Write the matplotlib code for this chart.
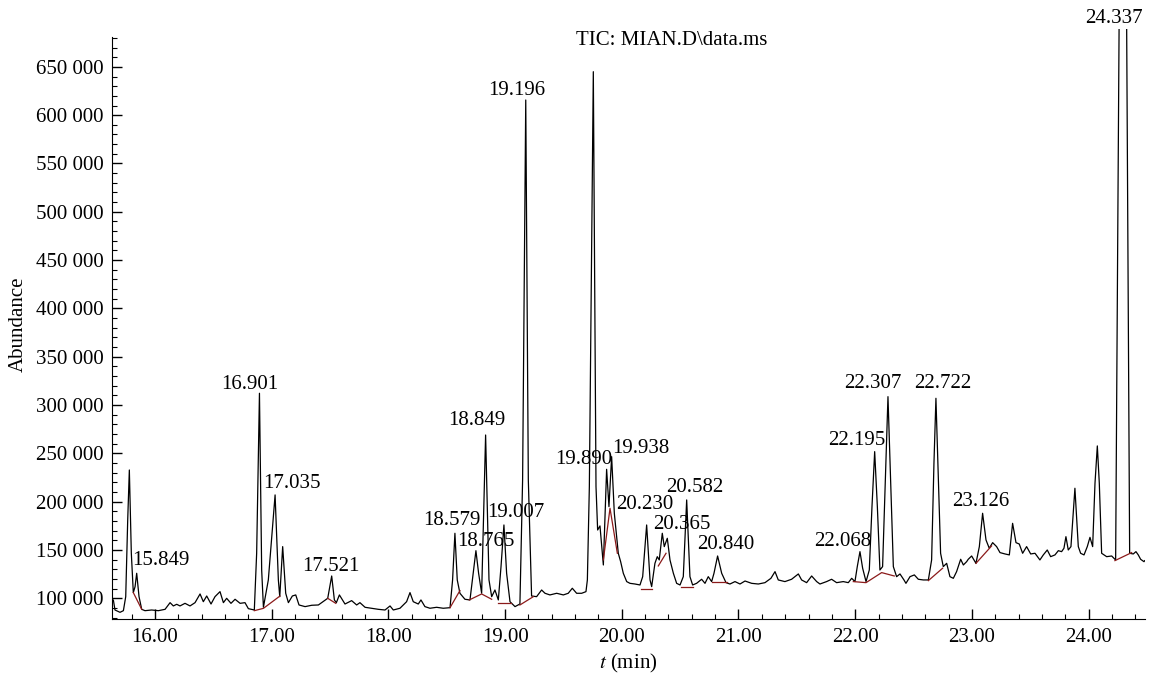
import numpy as np
import matplotlib.pyplot as plt
from matplotlib.ticker import MultipleLocator, FuncFormatter

# TIC trace (time in min, abundance)
t = [15.634, 15.643, 15.657, 15.700, 15.729, 15.749, 15.766, 15.780, 15.797, 15.814,
     15.829, 15.843, 15.863, 15.886, 15.914, 15.971, 16.029, 16.086, 16.129, 16.157,
     16.186, 16.214, 16.257, 16.300, 16.343, 16.386, 16.414, 16.443, 16.480, 16.514,
     16.557, 16.586, 16.614, 16.651, 16.686, 16.729, 16.771, 16.800, 16.851, 16.871,
     16.895, 16.914, 16.929, 16.971, 17.029, 17.057, 17.069, 17.094, 17.120, 17.143,
     17.177, 17.206, 17.234, 17.286, 17.343, 17.400, 17.480, 17.514, 17.537, 17.554,
     17.580, 17.628, 17.685, 17.728, 17.756, 17.800, 17.856, 17.914, 17.971, 18.014,
     18.042, 18.099, 18.156, 18.185, 18.213, 18.256, 18.279, 18.313, 18.356, 18.413,
     18.470, 18.528, 18.550, 18.570, 18.590, 18.613, 18.656, 18.699, 18.727, 18.750,
     18.773, 18.799, 18.833, 18.862, 18.885, 18.913, 18.942, 18.965, 18.990, 19.013,
     19.042, 19.085, 19.127, 19.150, 19.177, 19.199, 19.227, 19.270, 19.313, 19.342,
     19.384, 19.442, 19.499, 19.541, 19.576, 19.613, 19.656, 19.693, 19.705, 19.722,
     19.756, 19.779, 19.793, 19.813, 19.842, 19.870, 19.890, 19.913, 19.936, 19.970,
     19.990, 20.013, 20.042, 20.070, 20.113, 20.156, 20.179, 20.213, 20.242, 20.256,
     20.284, 20.304, 20.321, 20.347, 20.364, 20.390, 20.413, 20.442, 20.470, 20.499,
     20.527, 20.556, 20.584, 20.607, 20.641, 20.684, 20.713, 20.741, 20.770, 20.790,
     20.821, 20.856, 20.893, 20.927, 20.970, 21.013, 21.056, 21.113, 21.170, 21.227,
     21.278, 21.313, 21.341, 21.398, 21.455, 21.513, 21.541, 21.584, 21.627, 21.670,
     21.698, 21.755, 21.798, 21.841, 21.898, 21.941, 21.970, 21.998, 22.018, 22.041,
     22.064, 22.093, 22.121, 22.144, 22.167, 22.190, 22.212, 22.235, 22.258, 22.281,
     22.304, 22.327, 22.355, 22.384, 22.418, 22.435, 22.470, 22.507, 22.541, 22.584,
     22.627, 22.655, 22.675, 22.692, 22.709, 22.732, 22.755, 22.784, 22.812, 22.841,
     22.869, 22.904, 22.927, 22.955, 22.969, 22.998, 23.035, 23.064, 23.092, 23.121,
     23.149, 23.178, 23.212, 23.241, 23.284, 23.321, 23.349, 23.378, 23.406, 23.435,
     23.469, 23.504, 23.541, 23.583, 23.612, 23.646, 23.675, 23.712, 23.741, 23.769,
     23.789, 23.806, 23.826, 23.849, 23.883, 23.912, 23.932, 23.961, 23.989, 24.012,
     24.035, 24.055, 24.075, 24.092, 24.112, 24.155, 24.198, 24.232, 24.262, 24.326,
     24.352, 24.383, 24.406, 24.426, 24.446, 24.475, 24.480]
abund = [96550, 98300, 87900, 85500, 87200, 101700, 181000, 232800, 146600, 105900,
         112000, 125900, 101700, 88600, 87200, 87900, 87200, 88600, 95500, 92100,
         93800, 92100, 94800, 92100, 95500, 104500, 96500, 102400, 94100, 101700,
         106900, 95500, 100000, 94800, 99000, 94800, 95500, 89300, 87900, 146600,
         312200, 129300, 90700, 119000, 207000, 119000, 101700, 153500, 105200, 95500,
         102400, 103500, 93100, 91400, 92800, 93100, 100000, 123100, 98300, 95500,
         103500, 94100, 97600, 93100, 95500, 90700, 89700, 88600, 87900, 92100,
         87900, 89700, 96500, 105900, 96500, 94100, 98300, 91400, 89700, 90700,
         89700, 90300, 119000, 167300, 119000, 105200, 99000, 98300, 125900, 149300,
         125900, 105200, 269000, 119000, 101700, 108600, 98300, 132800, 175900, 125900,
         96500, 91400, 94100, 222500, 615700, 222500, 102400, 101700, 108600, 105200,
         103500, 105200, 103500, 105200, 110400, 105200, 105200, 106900, 119000, 215600,
         645000, 215600, 170700, 174900, 134500, 233500, 194900, 246600, 188000, 146600,
         138000, 125900, 117300, 115500, 114800, 113800, 122400, 175900, 119000, 112100,
         136200, 143100, 139700, 167300, 153500, 162100, 139700, 125900, 115500, 113800,
         122400, 201800, 122400, 113800, 115500, 119700, 115500, 122400, 117300, 125900,
         143800, 125900, 116200, 114800, 117300, 114800, 117900, 115500, 114800, 116200,
         120700, 127600, 119000, 117300, 119700, 125200, 119000, 116200, 123100, 117300,
         114800, 117300, 119700, 116200, 117300, 116200, 120700, 117300, 132800, 148300,
         131100, 117300, 129300, 194900, 251800, 194900, 129300, 132800, 222500, 308700,
         222500, 132800, 122400, 125200, 119000, 115500, 122400, 124200, 119700, 119000,
         119000, 139700, 239700, 307000, 239700, 146600, 132800, 136200, 122400, 120700,
         127600, 140400, 134500, 137900, 140400, 143800, 136200, 153500, 188000, 160400,
         151800, 157600, 153500, 147300, 145900, 144900, 177600, 157600, 156200, 146600,
         153500, 145900, 146600, 139700, 144900, 150000, 143100, 144900, 149300, 148300,
         151800, 163800, 150000, 153500, 213900, 153500, 146600, 144900, 153500, 163100,
         153500, 219000, 257700, 219000, 146600, 143100, 143800, 139700, 700000, 700000,
         146600, 145900, 148300, 144900, 140400, 137900, 138900]

# integration baselines (red)
base_t = [[15.814, 15.886], [16.851, 16.929, 17.071], [17.480, 17.549],
          [18.528, 18.613], [18.693, 18.799, 18.885], [18.942, 19.047],
          [19.127, 19.242], [19.842, 19.899, 19.962], [20.165, 20.256],
          [20.313, 20.379], [20.507, 20.613], [20.770, 20.898],
          [21.984, 22.093, 22.227, 22.335], [22.627, 22.749],
          [23.035, 23.169], [24.226, 24.369]]
base_a = [[105900, 88600], [87200, 89600, 102400], [100000, 94800],
          [90300, 108000], [98300, 104500, 99000], [95500, 95500],
          [93100, 101700], [139700, 193200, 146600], [109700, 109700],
          [133500, 146600], [112100, 112100], [116600, 116600],
          [117300, 116200, 126600, 123100], [118300, 131100],
          [136200, 154200], [139000, 147300]]

# peak labels and where they sit
lab = ['15.849', '16.901', '17.035', '17.521', '18.579', '18.765', '18.849',
       '19.007', '19.196', '19.890', '19.938', '20.230', '20.365', '20.582',
       '20.840', '22.068', '22.195', '22.307', '22.722', '23.126', '24.337']
lab_t = [16.049, 16.811, 17.171, 17.508, 18.545, 18.839, 18.759, 19.095, 19.099,
         19.673, 20.166, 20.199, 20.513, 20.625, 20.889, 21.889, 22.010, 22.148,
         22.752, 23.077, 24.219]
lab_a = [139600, 320800, 219000, 132700, 181000, 158600, 284500, 188600, 625400,
         243900, 255200, 197300, 176600, 214500, 156200, 158600, 263800, 322500,
         322500, 200000, 700300]

plt.rcParams['font.family'] = ['Liberation Serif', 'DejaVu Serif']
plt.rcParams['mathtext.fontset'] = 'stix'

fig = plt.figure(figsize=(11.53, 6.8), dpi=100)
ax = fig.add_axes([0.0974, 0.0893, 0.8953, 0.8678])

ax.plot(t, abund, color='black', lw=0.9)
for bt, ba in zip(base_t, base_a):
    ax.plot(bt, ba, color='#8b1a1a', lw=0.9)

for s, x, y in zip(lab, lab_t, lab_a):
    ax.text(x, y, s, ha='center', va='center', fontsize=15, clip_on=False)

ax.set_xlim(15.634, 24.48)
ax.set_ylim(78300, 689000)
ax.spines['top'].set_visible(False)
ax.spines['right'].set_visible(False)
ax.spines['left'].set_bounds(78300, 681000)

ax.xaxis.set_major_locator(MultipleLocator(1))
ax.xaxis.set_minor_locator(MultipleLocator(0.2))
ax.xaxis.set_major_formatter(FuncFormatter(lambda v, p: f'{v:.2f}'))
ax.set_yticks(np.arange(100000, 650001, 50000))
ax.yaxis.set_minor_locator(MultipleLocator(10000))
ax.yaxis.set_major_formatter(FuncFormatter(lambda v, p: f'{int(v):,}'.replace(',', ' ')))

ax.tick_params(which='major', direction='in', length=7, width=1, labelsize=15, pad=6)
ax.tick_params(which='minor', direction='in', length=3.5, width=0.8)

ax.set_xlabel('$t$ (min)', fontsize=15, labelpad=4)
ax.set_ylabel('Abundance', fontsize=15, labelpad=6)
fig.text(0.5826, 0.941, 'TIC: MIAN.D\\data.ms', ha='center', va='center', fontsize=15)

fig.savefig('out.png', dpi=100, facecolor='white')
